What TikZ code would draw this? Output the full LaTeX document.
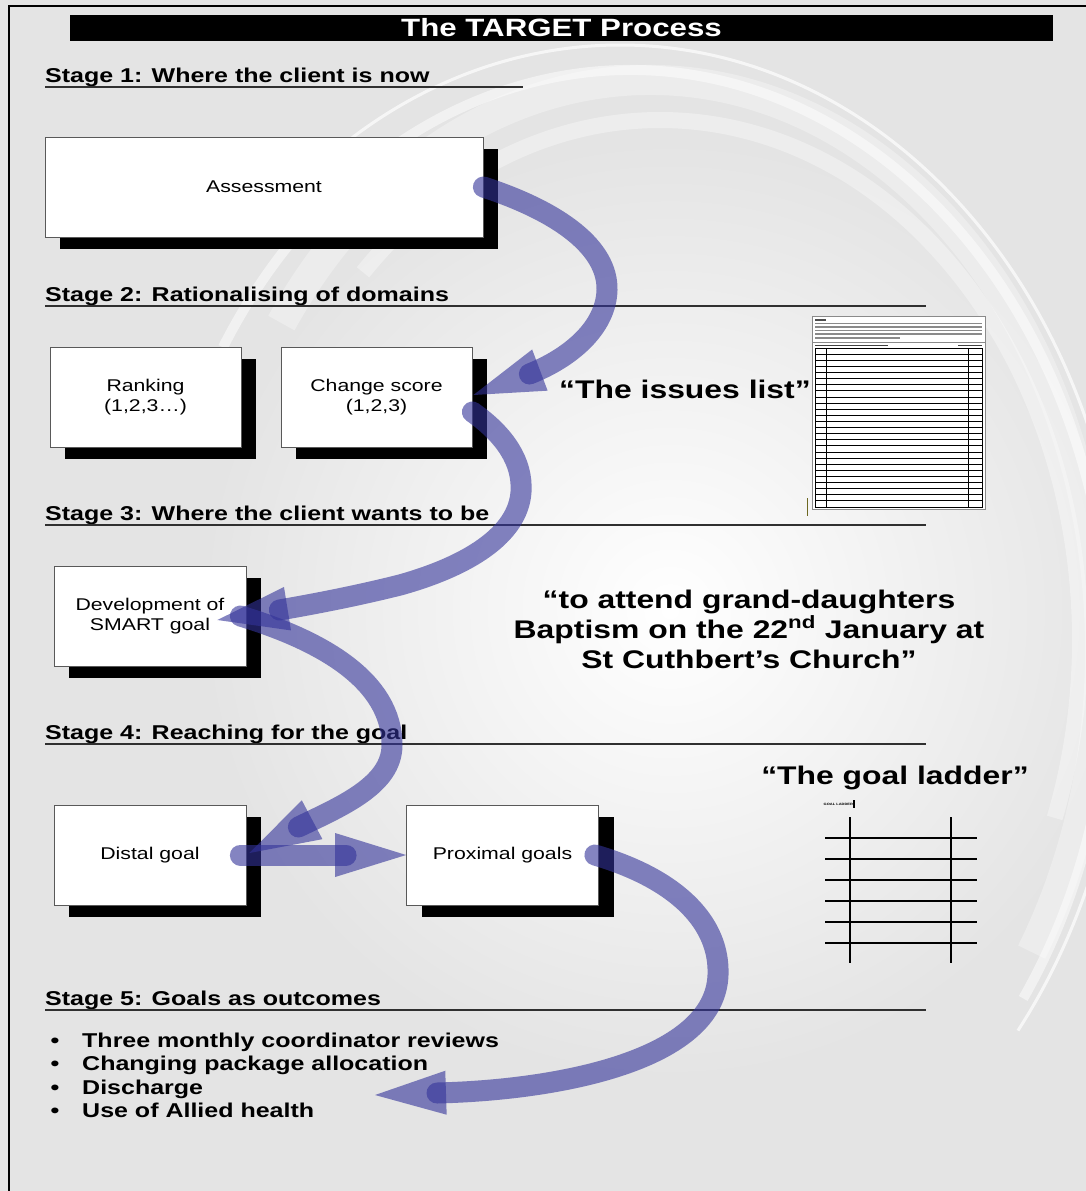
\documentclass[tikz,border=0pt]{standalone}
\usepackage{fontspec}
\setmainfont{Liberation Sans}[FakeStretch=1.25]
\usetikzlibrary{calc,shadows}

\definecolor{slidegray}{HTML}{E4E4E4}
\definecolor{flowblue}{RGB}{51,51,153}
\definecolor{rulegray}{HTML}{303030}
\definecolor{formgray}{HTML}{8A8A8A}

\newcommand\tgTitle{\bfseries\fontsize{25}{30}\selectfont}
\newcommand\tgStage{\bfseries\fontsize{20}{24}\selectfont}
\newcommand\tgCard{\fontsize{17}{20}\selectfont}
\newcommand\tgQuote{\bfseries\fontsize{25.5}{30}\selectfont}

% arrow head: tip at #1, pointing away from #2
\newcommand\flowtip[2]{%
  \path ($(#1)!71pt!(#2)$) coordinate (tipbase);
  \fill[flowhead] (#1) -- ($(tipbase)!22pt!90:(#1)$) -- ($(tipbase)!22pt!-90:(#1)$) -- cycle;}

\begin{document}
\begin{tikzpicture}[x=1pt,y=-1pt,
  titlebar/.style={fill=black, text=white, font=\tgTitle, minimum width=983pt,
    minimum height=26pt, inner sep=0pt},
  stagelabel/.style={font=\tgStage, inner sep=0pt, anchor=base west},
  stagerule/.style={draw=rulegray, line width=1.2pt},
  card/.style={draw=gray!70!black, line width=0.8pt, fill=white, font=\tgCard,
    align=center, minimum height=100pt, inner sep=0pt,
    drop shadow={shadow xshift=15pt, shadow yshift=-12pt, fill=black, opacity=1}},
  quote/.style={font=\tgQuote, inner sep=0pt, anchor=base},
  bullettext/.style={font=\tgStage, inner sep=0pt, anchor=base west},
  flowshaft/.style={draw=flowblue, draw opacity=0.6, line width=21pt, line cap=round},
  flowhead/.style={fill=flowblue, fill opacity=0.6},
  formline/.style={draw=black, line width=0.8pt},
  ladderline/.style={draw=black, line width=1.6pt}]

\useasboundingbox (0,0) rectangle (1086,1191);

% background with soft swirl
\begin{scope}
  \clip (0,0) rectangle (1086,1191);
  \fill[slidegray] (0,0) rectangle (1086,1191);
  \shade[inner color=white, outer color=slidegray] (670,610) circle[radius=470];
  \draw[white, line width=30pt, opacity=0.3]
    ([shift={(215:450 and 570)}]650,650) arc[start angle=215, end angle=392, x radius=450, y radius=570];
  \draw[white, line width=10pt, opacity=0.5]
    ([shift={(212:480 and 590)}]630,660) arc[start angle=212, end angle=395, x radius=480, y radius=590];
  \draw[white, line width=3pt, opacity=0.7]
    ([shift={(222:505 and 610)}]620,655) arc[start angle=222, end angle=398, x radius=505, y radius=610];
  \draw[white, line width=16pt, opacity=0.35]
    ([shift={(225:420 and 520)}]660,640) arc[start angle=225, end angle=380, x radius=420, y radius=520];
\end{scope}

% slide frame
\draw[black, line width=2pt] (9,1191) -- (9,5.5) -- (1086,5.5);

% title
\node[titlebar] (title) at (561.5,28) {The TARGET Process};

% stage headings and rules
\node[stagelabel] (s1) at (45,82) {Stage 1: Where the client is now};
\draw[stagerule] (45,87) -- (523,87);
\node[stagelabel] (s2) at (45,301) {Stage 2: Rationalising of domains};
\draw[stagerule] (45,306) -- (926,306);
\node[stagelabel] (s3) at (45,520) {Stage 3: Where the client wants to be};
\draw[stagerule] (45,525) -- (926,525);
\node[stagelabel] (s4) at (45,739) {Stage 4: Reaching for the goal};
\draw[stagerule] (45,744) -- (926,744);
\node[stagelabel] (s5) at (45,1005) {Stage 5: Goals as outcomes};
\draw[stagerule] (45,1010) -- (926,1010);

% process boxes
\node[card, minimum width=438pt] (assess) at (264,187) {Assessment};
\node[card, minimum width=191pt] (rank) at (145.5,397) {Ranking\\(1,2,3…)};
\node[card, minimum width=191pt] (change) at (376.5,397) {Change score\\(1,2,3)};
\node[card, minimum width=192pt] (smart) at (150,616) {Development of\\SMART goal};
\node[card, minimum width=192pt] (distal) at (150,855) {Distal goal};
\node[card, minimum width=192pt] (prox) at (502.5,855) {Proximal goals};

% quotations
\node[quote] (issues) at (685,398) {“The issues list”};
\node[quote] (q1) at (749,608) {“to attend grand-daughters};
\node[quote] (q2) at (749,638) {Baptism on the 22\textsuperscript{nd} January at};
\node[quote] (q3) at (749,668) {St Cuthbert’s Church”};
\node[quote] (ladder) at (895,784) {“The goal ladder”};

% issues list form
\fill[white] (812,316) rectangle (985,509);
\draw[formgray, line width=1pt] (812,316) rectangle (985,509);
\draw[formgray, line width=1pt] (812,316) rectangle (985,342);
\draw[black!70, line width=1.2pt] (815,320) -- (826,320);
\foreach \yy in {323.5,327,330.5,334}
  \draw[formgray, line width=1.1pt] (815,\yy) -- (982,\yy);
\draw[formgray, line width=1.1pt] (815,338) -- (900,338);
\draw[black!75, line width=1.3pt] (815,345.2) -- (888,345.2);
\draw[black!75, line width=1.3pt] (958,345.2) -- (982,345.2);
\draw[formline] (815,348) rectangle (982,507);
\draw[formline] (826,348) -- (826,507);
\draw[formline] (968,348) -- (968,507);
\foreach \k in {1,...,25}
  \draw[formline] (815,{348+\k*6.115}) -- (982,{348+\k*6.115});
\draw[olive!70!black, line width=0.8pt] (807,498) -- (807,516);

% goal ladder sketch
\node[font=\bfseries\fontsize{3.2}{4}\selectfont, inner sep=0pt, anchor=west] (ladlabel) at (823.5,804) {GOAL LADDER};
\draw[black, line width=1.4pt] (854,800) -- (854,808);
\draw[ladderline] (850,817) -- (850,963);
\draw[ladderline] (950.7,817) -- (950.7,963);
\foreach \yy in {838,859,880,901,922,943}
  \draw[ladderline] (825,\yy) -- (977,\yy);

% stage 5 outcomes
\foreach \txt/\yy/\nm in {Three monthly coordinator reviews/1047/b1,
    Changing package allocation/1070.5/b2, Discharge/1094/b3, Use of Allied health/1117.5/b4}{
  \node[font=\tgStage, inner sep=0pt, anchor=base] at (55,\yy) {\textbullet};
  \node[bullettext] (\nm) at (82,\yy) {\txt};
}

% flow arrows
\coordinate (t1) at ($(change.east)+(1,-2)$);
\coordinate (e1) at ($(change.east)+(57,-23)$);
\coordinate (t2) at ($(smart.east)+(-29,4)$);
\coordinate (e2) at ($(smart.east)+(33,-6)$);
\coordinate (t3) at ($(distal.east)+(3,-2)$);
\coordinate (e3) at ($(distal.east)+(52,-28)$);
\coordinate (e4) at ($(prox.west)+(-60,0)$);
\coordinate (outcome) at (375,1095);
\coordinate (e5) at (437,1093);

\draw[flowshaft] (assess.east) .. controls (560,212) and (608,248) .. (607,290)
  .. controls (606,328) and (570,358) .. (e1);
\flowtip{t1}{e1}

\draw[flowshaft] ($(change.east)+(0,15)$) .. controls (505,435) and (523,462) .. (521,492)
  .. controls (518,535) and (468,566) .. (400,585)
  .. controls (360,595) and (320,603) .. (e2);
\flowtip{t2}{e2}

\draw[flowshaft] ($(smart.east)+(-6,0)$) .. controls (320,640) and (392,680) .. (392,745)
  .. controls (392,785) and (342,806) .. (e3);
\flowtip{t3}{e3}

\draw[flowshaft] ($(distal.east)+(-6,0)$) -- (e4);
\flowtip{prox.west}{e4}

\draw[flowshaft] ($(prox.east)+(-4,0)$) .. controls (680,880) and (720,925) .. (718,975)
  .. controls (715,1060) and (560,1090) .. (e5);
\flowtip{outcome}{e5}

\end{tikzpicture}
\end{document}
